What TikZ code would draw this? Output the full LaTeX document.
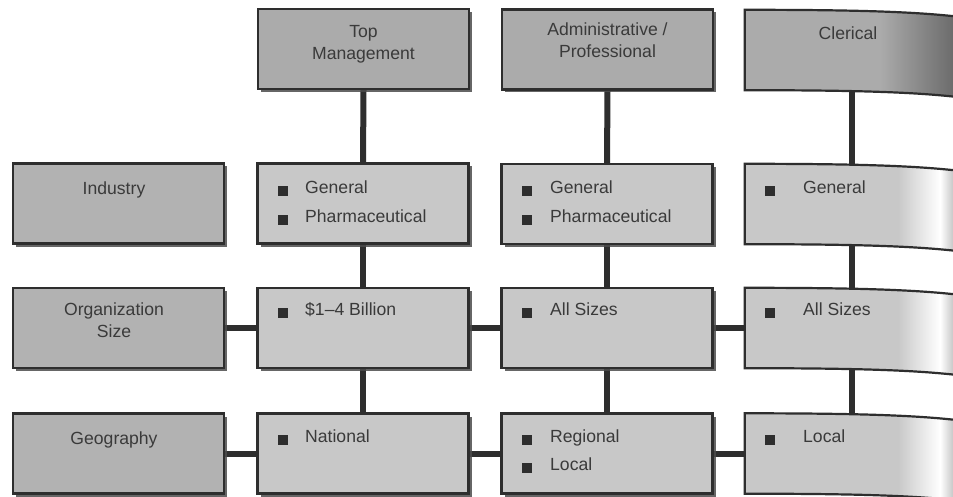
\documentclass[tikz,border=0pt]{standalone}
\usepackage{fontspec}
\setmainfont{Liberation Sans}
\usetikzlibrary{calc,shadows,backgrounds}
\definecolor{headfill}{HTML}{ABABAB}
\definecolor{sidefill}{HTML}{B2B2B2}
\definecolor{rowfill}{HTML}{C8C8C8}
\definecolor{edge}{HTML}{2E2E2E}
\definecolor{txt}{HTML}{3A3A3A}
\begin{document}
\begin{tikzpicture}[x=1pt,y=-1pt,
  boxshape/.style={minimum width=211pt, minimum height=80pt, inner sep=0pt},
  box/.style={boxshape, draw=edge, line width=2.2pt,
    drop shadow={shadow xshift=3pt, shadow yshift=-3pt, fill=black!70, opacity=0.85}},
  headbox/.style={box, fill=headfill},
  sidebox/.style={box, fill=sidefill},
  rowbox/.style={box, fill=rowfill},
  clerbox/.style={boxshape, minimum width=214pt},
  clershape/.style={insert path={(#1.north west) .. controls ($(#1.north west)+(115,0)$) and ($(#1.north west)+(170,2)$) .. ($(#1.north east)+(0,7)$) -- ($(#1.south east)+(0,7)$) .. controls ($(#1.south west)+(170,2)$) and ($(#1.south west)+(115,0)$) .. (#1.south west) -- cycle}},
  conn/.style={draw=edge, line width=6pt},
  lbl/.style={text=txt, font=\fontsize{17.6}{21}\selectfont, inner sep=0pt, anchor=mid},
  item/.style={lbl, anchor=mid west},
  bullet/.style={fill=edge, minimum size=9.5pt, inner sep=0pt},
]
\useasboundingbox (0,0) rectangle (953,497);
\begin{pgfonlayer}{background}
  \fill[white] (0,0) rectangle (953,497);
\end{pgfonlayer}

% header boxes
\node[headbox] (h1) at (363.5,49) {};
\node[headbox] (h2) at (607.5,49.5) {};
\node[clerbox] (h3) at (852,50) {};

% side boxes
\node[sidebox] (l1) at (118.5,203.5) {};
\node[sidebox] (l2) at (118.5,328) {};
\node[sidebox] (l3) at (118.5,453.5) {};

% row boxes
\node[rowbox] (b11) at (363,203.5) {};
\node[rowbox] (b12) at (607,204) {};
\node[clerbox] (b13) at (852,204) {};
\node[rowbox] (b21) at (363,328) {};
\node[rowbox] (b22) at (607,328) {};
\node[clerbox] (b23) at (852,328) {};
\node[rowbox] (b31) at (363,453.5) {};
\node[rowbox] (b32) at (607,453.5) {};
\node[clerbox] (b33) at (852,453.5) {};

% clerical header (curled page edge)
\fill[black!70, opacity=0.85, shift={(3,3)}, clershape=h3];
\fill[headfill, clershape=h3];
\begin{scope}
  \clip[clershape=h3];
  \shade[left color=headfill, right color=black!60] (880,0) rectangle (960,110);
\end{scope}
\draw[edge, line width=2.2pt, clershape=h3];

% clerical row boxes
\foreach \b in {b13,b23,b33}{
  \fill[black!70, opacity=0.85, shift={(3,3)}, clershape=\b];
  \fill[rowfill, clershape=\b];
  \begin{scope}
    \clip[clershape=\b];
    \shade[left color=rowfill, right color=white] (898,0) rectangle (940,497);
    \shade[left color=white, right color=rowfill!85!black] (940,0) rectangle (960,497);
  \end{scope}
  \draw[edge, line width=2.2pt, clershape=\b];
}

% connectors
\begin{pgfonlayer}{background}
  \draw[conn] (h1.south) -- (b11.north);
  \draw[conn] (b11.south) -- (b21.north);
  \draw[conn] (b21.south) -- (b31.north);
  \draw[conn] (h2.south) -- (b12.north);
  \draw[conn] (b12.south) -- (b22.north);
  \draw[conn] (b22.south) -- (b32.north);
  \draw[conn] (h3.south) -- (b13.north);
  \draw[conn] (b13.south) -- (b23.north);
  \draw[conn] (b23.south) -- (b33.north);
  \draw[conn] (l2.east) -- (b21.west);
  \draw[conn] (b21.east) -- (b22.west);
  \draw[conn] (b22.east) -- (b23.west);
  \draw[conn] (l3.east) -- (b31.west);
  \draw[conn] (b31.east) -- (b32.west);
  \draw[conn] (b32.east) -- (b33.west);
\end{pgfonlayer}

% header labels
\node[lbl] (t1a) at (363.5,35) {Top};
\node[lbl] (t1b) at (363.5,57) {Management};
\node[lbl] (t2a) at (607.5,33) {Administrative /};
\node[lbl] (t2b) at (607.5,55) {Professional};
\node[lbl] (t3a) at (848,37) {Clerical};

% side labels
\node[lbl] (s1) at (114,192) {Industry};
\node[lbl] (s2a) at (114,313) {Organization};
\node[lbl] (s2b) at (114,335) {Size};
\node[lbl] (s3) at (114,442) {Geography};

% items
\node[bullet] (q11a) at (283,191) {}; \node[item] (i11a) at (305,191) {General};
\node[bullet] (q11b) at (283,220) {}; \node[item] (i11b) at (305,220) {Pharmaceutical};
\node[bullet] (q12a) at (527,191) {}; \node[item] (i12a) at (550,191) {General};
\node[bullet] (q12b) at (527,220) {}; \node[item] (i12b) at (550,220) {Pharmaceutical};
\node[bullet] (q13a) at (770,191) {}; \node[item] (i13a) at (803,191) {General};

\node[bullet] (q21a) at (283,313) {}; \node[item] (i21a) at (305,313) {\$1–4 Billion};
\node[bullet] (q22a) at (527,313) {}; \node[item] (i22a) at (550,313) {All Sizes};
\node[bullet] (q23a) at (770,313) {}; \node[item] (i23a) at (803,313) {All Sizes};

\node[bullet] (q31a) at (283,440) {}; \node[item] (i31a) at (305,440) {National};
\node[bullet] (q32a) at (527,440) {}; \node[item] (i32a) at (550,440) {Regional};
\node[bullet] (q32b) at (527,468) {}; \node[item] (i32b) at (550,468) {Local};
\node[bullet] (q33a) at (770,440) {}; \node[item] (i33a) at (803,440) {Local};
\end{tikzpicture}
\end{document}
